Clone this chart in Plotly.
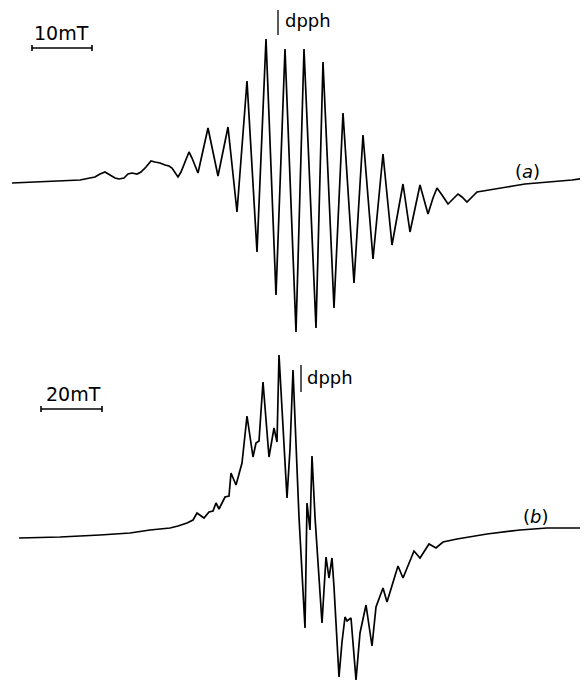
import plotly.graph_objects as go

# Spectrum (a): field position (px along the chart) and signal (px, downward)
a_x = [12, 40, 70, 80, 90, 95, 100, 105, 110, 115, 119, 124, 128, 132, 137, 141, 146, 151, 155, 160, 165, 169, 172, 175, 178,
       181, 185, 189, 192, 198, 208, 218, 228, 237, 247, 257, 266, 276, 285, 296, 304, 316, 323, 334, 343, 354, 363, 373, 383, 392,
       403, 410, 420, 428, 433, 437, 442, 448, 452, 458, 462, 467, 472, 477, 483, 490, 500, 513, 525, 537, 557, 572, 587]
a_y = [183, 182, 181, 180, 178, 177, 174, 172, 175, 178, 179, 178, 174, 173, 174, 172, 167, 161, 162, 163, 165, 166, 168, 173, 177,
       172, 162, 152, 158, 173, 128, 176, 127, 212, 81, 252, 39, 295, 49, 332, 49, 328, 62, 308, 113, 283, 135, 259, 154, 245,
       184, 232, 185, 214, 198, 188, 195, 204, 200, 194, 197, 202, 197, 192, 191, 190, 188, 186, 184, 183, 181, 180, 178]

# Spectrum (b)
b_x = [19, 60, 100, 130, 150, 170, 178, 187, 193, 197, 204, 209, 213, 216, 219, 225, 229, 231, 236, 242, 247, 253, 256, 259,
       263, 269, 274, 277, 279, 287, 290, 293, 299, 305, 307, 310, 312, 315, 322, 326, 329, 332, 334, 339, 342, 345,
       347, 351, 356, 359, 360, 366, 372, 376, 383, 387, 398, 403, 414, 420, 429, 436, 443, 457, 470, 487, 520, 547, 587]
b_y = [538, 537, 535, 533, 530, 528, 526, 523, 520, 513, 518, 512, 511, 503, 509, 497, 496, 473, 485, 463, 416, 457, 443, 441,
       382, 457, 428, 442, 355, 498, 449, 370, 517, 628, 503, 530, 456, 517, 623, 557, 578, 558, 587, 677, 642, 617,
       621, 618, 680, 637, 633, 605, 646, 607, 588, 602, 566, 578, 551, 558, 544, 548, 542, 539, 537, 534, 530, 528, 528]

# Annotations
scale_labels = ["10mT", "20mT"]
scale_bar_x0 = [32, 41]
scale_bar_x1 = [92, 102]
scale_bar_y = [48, 409]
scale_text_xy = [(61, 33), (73, 394)]

dpph_line_x = [278, 301]
dpph_line_y0 = [10, 365]
dpph_line_y1 = [35, 392]
dpph_text_xy = [(283, 20), (305, 377)]

panel_labels = ["(<i>a</i>)", "(<i>b</i>)"]
panel_label_xy = [(527, 171), (536, 516)]

fig = go.Figure()
line_style = dict(color="black", width=1.7)
fig.add_trace(go.Scatter(x=a_x, y=a_y, mode="lines", line=line_style, hoverinfo="skip"))
fig.add_trace(go.Scatter(x=b_x, y=b_y, mode="lines", line=line_style, hoverinfo="skip"))

for i in range(2):
    x0, x1, y = scale_bar_x0[i], scale_bar_x1[i], scale_bar_y[i]
    fig.add_trace(go.Scatter(x=[x0, x1], y=[y, y], mode="lines", line=dict(color="black", width=1.6), hoverinfo="skip"))
    for xe in (x0, x1):
        fig.add_trace(go.Scatter(x=[xe, xe], y=[y - 3, y + 3], mode="lines", line=dict(color="black", width=1.6), hoverinfo="skip"))
    tx, ty = scale_text_xy[i]
    fig.add_annotation(x=tx, y=ty, text=scale_labels[i], showarrow=False, xanchor="center", yanchor="middle",
                       font=dict(family="DejaVu Sans", size=19, color="black"))
    fig.add_trace(go.Scatter(x=[dpph_line_x[i]] * 2, y=[dpph_line_y0[i], dpph_line_y1[i]], mode="lines",
                             line=dict(color="black", width=1.3), hoverinfo="skip"))
    dx, dy = dpph_text_xy[i]
    fig.add_annotation(x=dx, y=dy, text="dpph", showarrow=False, xanchor="left", yanchor="middle",
                       font=dict(family="DejaVu Sans", size=18, color="black"))
    px, py = panel_label_xy[i]
    fig.add_annotation(x=px, y=py, text=panel_labels[i], showarrow=False, xanchor="center", yanchor="middle",
                       font=dict(family="DejaVu Sans", size=18, color="black"))

# The page body has an 8px margin; size and range the figure so data px == screen px.
fig.update_layout(
    width=580, height=673, margin=dict(l=0, r=0, t=0, b=0),
    paper_bgcolor="white", plot_bgcolor="white", showlegend=False,
    xaxis=dict(range=[8, 588], visible=False, fixedrange=True),
    yaxis=dict(range=[681, 8], visible=False, fixedrange=True),
)
fig.write_html("out.html")
